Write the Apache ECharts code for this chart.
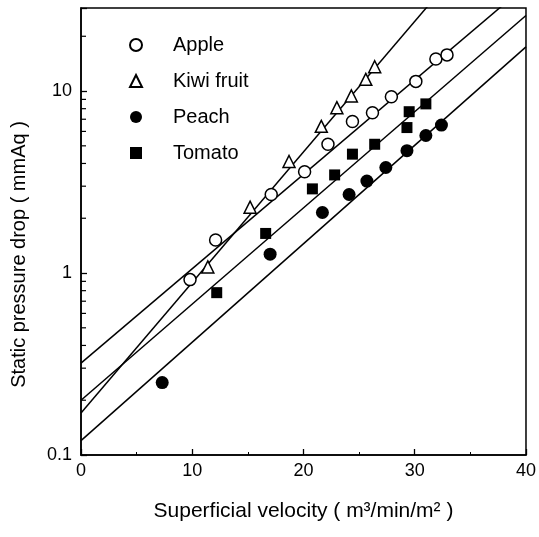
<!DOCTYPE html>
<html>
<head>
<meta charset="utf-8">
<script src="https://cdn.jsdelivr.net/npm/echarts@6/dist/echarts.min.js"></script>
<style>
  html, body { margin: 0; padding: 0; background: #fff; }
  #chart { width: 539px; height: 537px; }
</style>
</head>
<body>
<div id="chart"></div>
<script>
// measured points [velocity, pressure drop]
const appleData = [[9.8, 0.92], [12.1, 1.52], [17.1, 2.7], [20.1, 3.6], [22.2, 5.1], [24.4, 6.8],
  [26.2, 7.6], [27.9, 9.3], [30.1, 11.3], [31.9, 15.0], [32.9, 15.8]]
const kiwiData = [[11.4, 1.08], [15.2, 2.3], [18.7, 4.1], [21.6, 6.4], [23.0, 8.1], [24.3, 9.4],
  [25.6, 11.6], [26.4, 13.6]]
const peachData = [[7.3, 0.25], [17.0, 1.27], [21.7, 2.15], [24.1, 2.7], [25.7, 3.2], [27.4, 3.8],
  [29.3, 4.7], [31.0, 5.7], [32.4, 6.5]]
const tomatoData = [[12.2, 0.78], [16.6, 1.65], [20.8, 2.9], [22.8, 3.46], [24.4, 4.5], [26.4, 5.1],
  [29.3, 6.3], [29.5, 7.7], [31.0, 8.5]]

// fitted lines, read at x = 0 and x = 40 (clipped by the plot)
const appleFit = [[0, 0.32], [40, 38]]
const kiwiFit = [[0, 0.17], [40, 126]]
const tomatoFit = [[0, 0.2], [40, 26]]
const peachFit = [[0, 0.12], [40, 17.5]]

// small inside ticks on the log axis
const yMinorTicks = [0.2, 0.3, 0.4, 0.5, 0.6, 0.7, 0.8, 0.9, 2, 3, 4, 5, 6, 7, 8, 9, 20]

const font = 'Liberation Sans, Arial, sans-serif'
const chart = echarts.init(document.getElementById('chart'))

function fitLine(name, data) {
  return {
    name: name,
    type: 'line',
    data: data,
    symbol: 'none',
    silent: true,
    z: 1,
    lineStyle: {color: '#000', width: 1.5}
  }
}

const option = {
  backgroundColor: '#fff',
  animation: false,
  grid: {
    left: 81, right: 12, top: 8, bottom: 82,
    show: true, borderColor: '#000', borderWidth: 1.5
  },
  legend: {
    data: ['Apple', 'Kiwi fruit', 'Peach', 'Tomato'],
    orient: 'vertical',
    left: 124,
    top: 30,
    itemWidth: 12,
    itemHeight: 12,
    itemGap: 16,
    textStyle: {fontFamily: font, fontSize: 20, color: '#000', padding: [0, 0, 0, 26]}
  },
  xAxis: {
    type: 'value',
    min: 0,
    max: 40,
    interval: 10,
    name: 'Superficial velocity ( m³/min/m² )',
    nameLocation: 'middle',
    nameGap: 46,
    nameTextStyle: {fontFamily: font, fontSize: 21, color: '#000'},
    axisLine: {lineStyle: {color: '#000', width: 1.5}},
    axisTick: {inside: true, length: 6, lineStyle: {color: '#000', width: 1.3}},
    minorTick: {show: true, splitNumber: 2, length: 3, lineStyle: {color: '#000', width: 1}},
    splitLine: {show: false},
    axisLabel: {fontFamily: font, fontSize: 18, color: '#000', margin: 7}
  },
  yAxis: {
    type: 'log',
    logBase: 10,
    min: 0.1,
    max: 28.6,
    name: 'Static pressure drop ( mmAq )',
    nameLocation: 'middle',
    nameGap: 52,
    nameTextStyle: {fontFamily: font, fontSize: 20, color: '#000', padding: [0, 46, 0, 0]},
    axisLine: {lineStyle: {color: '#000', width: 1.5}},
    axisTick: {inside: true, length: 6, lineStyle: {color: '#000', width: 1.3}},
    splitLine: {show: false},
    axisLabel: {
      fontFamily: font, fontSize: 18, color: '#000', margin: 9,
      formatter: v => {
        const l = Math.log10(v)
        return Math.abs(l - Math.round(l)) < 1e-6 ? String(+v.toPrecision(3)) : ''
      }
    }
  },
  series: [
    fitLine('Apple fit', appleFit),
    fitLine('Kiwi fit', kiwiFit),
    fitLine('Tomato fit', tomatoFit),
    fitLine('Peach fit', peachFit),
    {
      name: 'minor ticks',
      type: 'scatter',
      data: yMinorTicks.map(v => [0, v]),
      symbol: 'rect',
      symbolSize: [5, 1.2],
      symbolOffset: [2.5, 0],
      silent: true,
      itemStyle: {color: '#000', opacity: 1},
      z: 3
    },
    {
      name: 'Apple',
      type: 'scatter',
      data: appleData,
      symbol: 'circle',
      symbolSize: 12,
      itemStyle: {color: '#fff', borderColor: '#000', borderWidth: 1.5, opacity: 1},
      z: 5
    },
    {
      name: 'Kiwi fruit',
      type: 'scatter',
      data: kiwiData,
      symbol: 'triangle',
      symbolSize: 12,
      itemStyle: {color: '#fff', borderColor: '#000', borderWidth: 1.5, opacity: 1},
      z: 5
    },
    {
      name: 'Peach',
      type: 'scatter',
      data: peachData,
      symbol: 'circle',
      symbolSize: 13,
      itemStyle: {color: '#000', opacity: 1},
      z: 5
    },
    {
      name: 'Tomato',
      type: 'scatter',
      data: tomatoData,
      symbol: 'rect',
      symbolSize: 11,
      itemStyle: {color: '#000', opacity: 1},
      z: 5
    }
  ]
}

chart.setOption(option)
</script>
</body>
</html>
